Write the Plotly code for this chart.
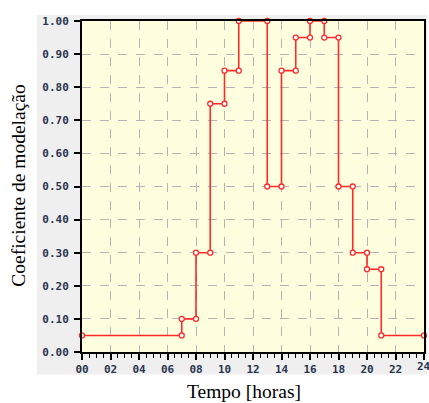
import plotly.graph_objects as go

# Step segments: start hour, end hour, modulation coefficient
seg_start = [0, 7, 8, 9, 10, 11, 13, 14, 15, 16, 17, 18, 19, 20, 21]
seg_end = [7, 8, 9, 10, 11, 13, 14, 15, 16, 17, 18, 19, 20, 21, 24]
seg_value = [0.05, 0.10, 0.30, 0.75, 0.85, 1.00, 0.50, 0.85, 0.95, 1.00, 0.95, 0.50, 0.30, 0.25, 0.05]

x_ticks = list(range(0, 25, 2))
y_ticks = [i / 10 for i in range(11)]

xs, ys = [], []
for s, e, v in zip(seg_start, seg_end, seg_value):
    xs += [s, e]
    ys += [v, v]

W, H = 429, 403
PL, PR, PT, PB = 82, 424, 21, 352.5   # plot area in page pixels
PW, PH = PR - PL, PB - PT

def px(x):
    return (x - PL) / PW

def py(y):
    return (PB - y) / PH

fig = go.Figure()
fig.add_trace(go.Scatter(
    x=xs, y=ys, mode="lines+markers",
    line=dict(color="#ff2a2a", width=1.6),
    marker=dict(symbol="circle", size=5, color="white",
                line=dict(color="#ff2a2a", width=1.3)),
    showlegend=False, cliponaxis=False, hoverinfo="skip",
))

tick_font = dict(family="DejaVu Sans Mono", size=11, color="#2a3550", weight="bold")

# the last x tick label sits on the figure edge (partly cut, as in the original)
last_label = dict(text=f"{x_ticks[-1]:02d}", xref="x", yref="paper",
                  x=x_ticks[-1], y=py(359), xanchor="center", yanchor="top",
                  showarrow=False, font=tick_font)

fig.update_layout(
    width=W, height=H,
    margin=dict(l=PL, r=W - PR, t=PT, b=H - PB, autoexpand=False),
    paper_bgcolor="white",
    plot_bgcolor="#ffffe0",
    xaxis=dict(
        range=[0, 24], tickvals=x_ticks, ticktext=[f"{t:02d}" for t in x_ticks],
        ticks="outside", ticklen=6, tickwidth=1.5, tickcolor="black",
        minor=dict(dtick=0.5, tick0=0, ticks="outside", ticklen=4, tickwidth=1.3,
                   tickcolor="black", showgrid=False),
        showgrid=True, gridcolor="#b4b4b4", griddash="dash", gridwidth=1,
        showline=True, linecolor="black", linewidth=2, mirror=True,
        tickfont=tick_font, zeroline=False, ticklabelstandoff=0,
        automargin=False,
    ),
    yaxis=dict(
        range=[0, 1], tickvals=y_ticks, ticktext=[f"{t:.2f}" for t in y_ticks],
        ticks="outside", ticklen=6, tickwidth=1.5, tickcolor="black",
        showgrid=True, gridcolor="#b4b4b4", griddash="dash", gridwidth=1,
        showline=True, linecolor="black", linewidth=2, mirror=True,
        tickfont=tick_font, zeroline=False, ticklabelstandoff=3,
        automargin=False,
    ),
    shapes=[
        dict(type="rect", xref="paper", yref="paper", layer="below",
             x0=px(37), x1=px(427), y0=py(375), y1=py(15),
             fillcolor="#efefef", line=dict(width=0)),
        dict(type="rect", xref="paper", yref="paper", layer="below",
             x0=0, x1=1, y0=0, y1=1,
             fillcolor="#ffffe0", line=dict(width=0)),
    ],
    annotations=[
        dict(text="Coeficiente de modelação", xref="paper", yref="paper",
             x=px(18.5), y=py(186.5), textangle=-90, showarrow=False,
             xanchor="center", yanchor="middle",
             font=dict(family="Liberation Serif", size=19.5, color="black")),
        dict(text="Tempo [horas]", xref="paper", yref="paper",
             x=px(243.5), y=py(392), showarrow=False,
             xanchor="center", yanchor="middle",
             font=dict(family="Liberation Serif", size=19.5, color="black")),
        last_label,
    ],
)

fig.write_html("out.html", config={"displayModeBar": False},
               post_script="document.body.style.margin='0';")
